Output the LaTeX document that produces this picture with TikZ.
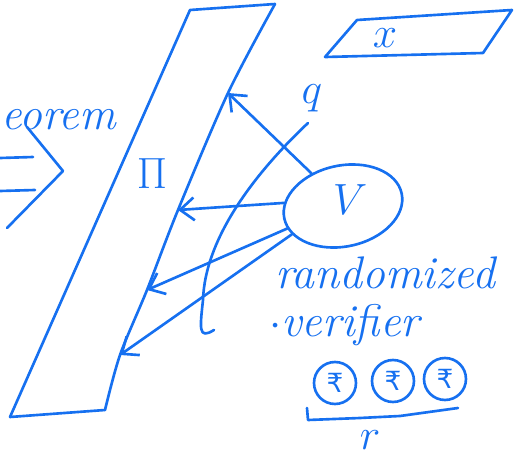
\documentclass[tikz,border=0pt]{standalone}
\usepackage{fontspec}
\newfontfamily\coinfont{DejaVu Sans}
\usetikzlibrary{arrows.meta}
\usetikzlibrary{shapes.geometric}
\definecolor{penblue}{RGB}{22,112,240}

\begin{document}
\begin{tikzpicture}[x=0.02cm, y=0.02cm, color=penblue,
        line width=1.5pt, line cap=round, line join=round,
        >={Straight Barb[length=8pt,width=13pt]},
        hand/.style={font=\fontsize{26}{30}\selectfont\itshape},
        coin/.style={circle, draw, minimum size=0.84cm, inner sep=0pt,
            font=\coinfont\fontsize{15}{17}\selectfont}]
        \useasboundingbox (0,0) rectangle (522,458);

        % proof string
        \coordinate (tl) at (190,448);
        \coordinate (tr) at (275,454);
        \coordinate (q1) at (228,365);
        \coordinate (q2) at (178,248);
        \coordinate (q3) at (147,168);
        \coordinate (q4) at (120,103);
        \coordinate (br) at (105,48);
        \coordinate (bl) at (10,41);
        \draw (bl) -- (tl) -- (tr);
        \draw plot[smooth] coordinates {(tr) (q1) (q2) (q3) (q4) (br)};
        \draw (br) -- (bl);
        \node[font=\fontsize{30}{34}\selectfont] (pi) at (152,284) {$\Pi$};

        % input
        \draw (325,401) -- (357,438) -- (512,448) -- (483,405) -- cycle;
        \node[hand] (x) at (385,420) {$x$};

        % verifier
        \node[ellipse, draw, minimum width=2.4cm, minimum height=1.62cm,
            rotate=12] (ver) at (343,252) {};
        \node[hand] (v) at (350,258) {$V$};
        \node[hand] (q) at (312,360) {$q$};

        \draw[->] (ver.122) -- (q1);
        \draw[->] (ver.165) -- (q2);
        \draw[->] (ver.190) -- (q3);
        \draw[->] (ver.197) -- (q4);

        \draw (308,335) .. controls (255,285) and (205,220) .. (203,158)
            .. controls (200,130) and (198,118) .. (214,128);

        \node[hand, anchor=west] (rand) at (268,185) {randomized};
        \node[hand, anchor=west] (verif) at (262,133) {$\cdot$verifier};

        % random coins
        \node[coin] (c1) at (335,75) {₹};
        \node[coin] (c2) at (393,77) {₹};
        \node[coin] (c3) at (445,79) {₹};
        \draw (307,50) -- (308,38) -- (360,40) -- (400,42) -- (458,50);
        \node[hand] (r) at (370,18) {$r$};

        % left part
        \node[hand, anchor=west] (thm) at (-6,338) {eorem};
        \draw (0,300) -- (33,301);
        \draw (0,267) -- (35,268);
        \draw (27,331) -- (63,287) -- (7,230);
\end{tikzpicture}
\end{document}
